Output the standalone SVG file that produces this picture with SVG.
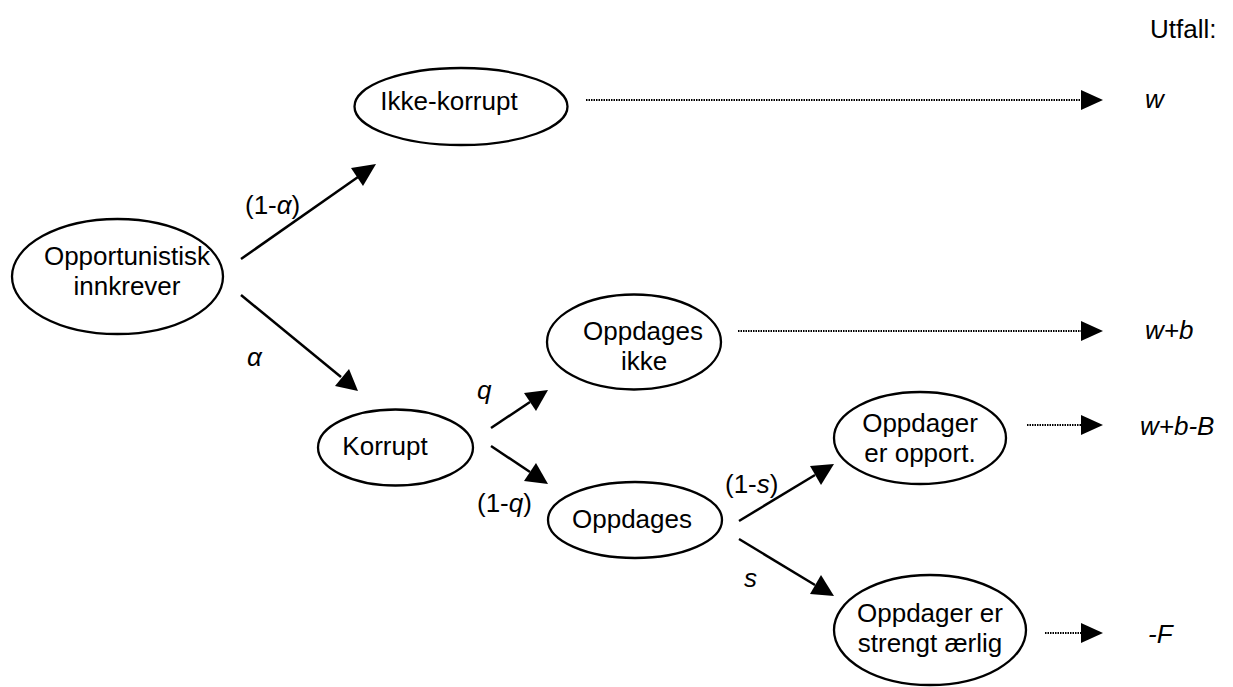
<svg xmlns="http://www.w3.org/2000/svg" width="1233" height="687" viewBox="0 0 1233 687">
<style>
.n{fill:#fff;stroke:#000;stroke-width:2.3}
.t{font-family:"Liberation Sans",Arial,sans-serif;font-size:26px;fill:#000}
.c{text-anchor:middle}
.i{font-style:italic}
.e{stroke:#000;stroke-width:2.5;fill:none}
.d{stroke:#000;stroke-width:2;stroke-dasharray:1.5 1;fill:none}
.ah{fill:#000}
</style>
<rect width="1233" height="687" fill="#fff"/>
<g id="connectors">
<line class="e" x1="241" y1="259" x2="358" y2="177"/>
<polygon class="ah" points="376,164 351,168 363,186"/>
<line class="e" x1="241" y1="295" x2="341" y2="377"/>
<polygon class="ah" points="358,391 335,386 349,369"/>
<line class="e" x1="491" y1="428" x2="530" y2="402"/>
<polygon class="ah" points="548,390 524,393 536,411"/>
<line class="e" x1="491" y1="446" x2="530" y2="472"/>
<polygon class="ah" points="548,484 524,481 536,463"/>
<line class="e" x1="739" y1="521" x2="815" y2="475"/>
<polygon class="ah" points="834,464 810,466 821,485"/>
<line class="e" x1="739" y1="539" x2="815" y2="585"/>
<polygon class="ah" points="834,596 810,594 821,575"/>
<line class="d" x1="586" y1="100" x2="1083" y2="100"/>
<polygon class="ah" points="1081,90 1103,100 1081,110"/>
<line class="d" x1="738" y1="331" x2="1083" y2="331"/>
<polygon class="ah" points="1081,321 1103,331 1081,341"/>
<line class="d" x1="1027" y1="425" x2="1083" y2="425"/>
<polygon class="ah" points="1081,415 1103,425 1081,435"/>
<line class="d" x1="1045" y1="633" x2="1083" y2="633"/>
<polygon class="ah" points="1081,623 1103,633 1081,643"/>
</g>
<g id="n-opportunistisk">
<ellipse class="n" cx="117.5" cy="276.5" rx="105.5" ry="57.5"/>
<text class="t c" x="127" y="265">Opportunistisk</text>
<text class="t c" x="127" y="295">innkrever</text>
</g>
<g id="n-ikke-korrupt">
<ellipse class="n" cx="461" cy="106.5" rx="106.5" ry="38.5"/>
<text class="t c" x="449" y="110">Ikke-korrupt</text>
</g>
<g id="n-korrupt">
<ellipse class="n" cx="395.5" cy="447.5" rx="77.5" ry="38"/>
<text class="t c" x="385" y="455">Korrupt</text>
</g>
<g id="n-oppdages-ikke">
<ellipse class="n" cx="634" cy="342" rx="87" ry="47.5"/>
<text class="t c" x="643" y="340">Oppdages</text>
<text class="t c" x="644" y="370">ikke</text>
</g>
<g id="n-oppdages">
<ellipse class="n" cx="635" cy="520" rx="87" ry="38"/>
<text class="t c" x="632" y="528">Oppdages</text>
</g>
<g id="n-oppdager-opport">
<ellipse class="n" cx="920" cy="438" rx="86" ry="46"/>
<text class="t c" x="920" y="432">Oppdager</text>
<text class="t c" x="920" y="462">er opport.</text>
</g>
<g id="n-oppdager-aerlig">
<ellipse class="n" cx="930" cy="630" rx="96" ry="55"/>
<text class="t c" x="930" y="622">Oppdager er</text>
<text class="t c" x="930" y="652">strengt ærlig</text>
</g>
<g id="labels">
<text class="t" x="245" y="214">(1-<tspan class="i">α</tspan>)</text>
<text class="t i" x="247" y="366">α</text>
<text class="t i" x="477" y="399">q</text>
<text class="t" x="477" y="512">(1-<tspan class="i">q</tspan>)</text>
<text class="t" x="725" y="493">(1-<tspan class="i">s</tspan>)</text>
<text class="t i" x="744" y="587">s</text>
<text class="t" x="1150" y="38">Utfall:</text>
<text class="t i" x="1145" y="108">w</text>
<text class="t i" x="1145" y="339">w+b</text>
<text class="t i" x="1140" y="435">w+b-B</text>
<text class="t i" x="1148" y="643">-F</text>
</g>
</svg>
